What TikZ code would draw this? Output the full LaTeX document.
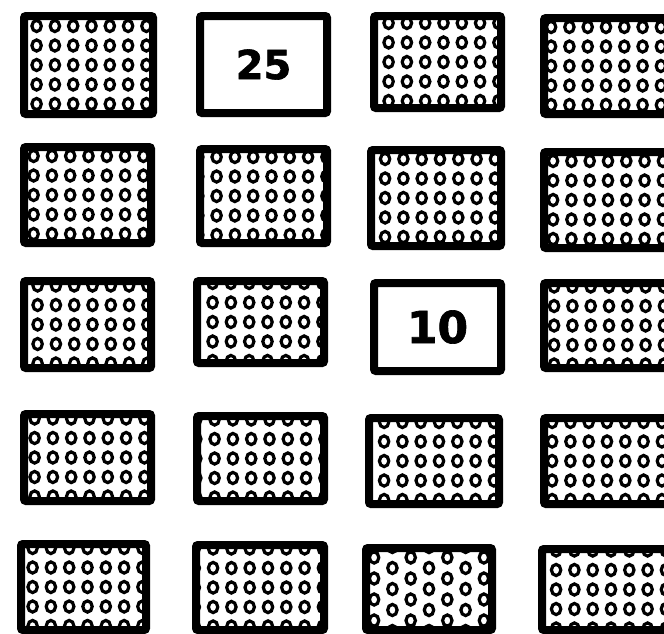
\documentclass[tikz,border=0pt]{standalone}
\usepackage{fontspec}
\setmainfont{DejaVu Sans}
\newfontfamily\heavy[FakeBold=1.5]{DejaVu Sans Bold}
\tikzset{
  box/.style={draw=black, line width=8pt, rounded corners=2pt, fill=white, inner sep=0pt},
  ring/.style={line width=3.2pt},
  dotbox/.style={box, path picture={
    \foreach \i in {-4,...,4}{\foreach \j in {-3,...,3}{
      \draw[ring, shift={(path picture bounding box.center)}] (\i*18.3+#1, \j*19.5) ellipse (4.7pt and 5.6pt);}}}},
  dotbox/.default=0,
  stagbox/.style={box, path picture={
    \foreach \i in {-4,-2,0,2,4}{\foreach \j in {-3,...,3}{
      \draw[ring, shift={(path picture bounding box.center)}] (\i*18.3, \j*21) ellipse (4.7pt and 5.6pt);}}
    \foreach \i in {-3,-1,1,3}{\foreach \j in {-3,...,3}{
      \draw[ring, shift={(path picture bounding box.center)}] (\i*18.3, \j*21+10.5) ellipse (4.7pt and 5.6pt);}}}},
  numbox/.style={box, font=\heavy\fontsize{40}{40}\selectfont}
}
\begin{document}
\begin{tikzpicture}[x=1pt,y=-1pt]
\useasboundingbox (0,0) rectangle (664,633);
% row 1
\node[dotbox=3, minimum width=129pt, minimum height=98pt] (b11) at (88.5,65) {};
\node[numbox, minimum width=127pt, minimum height=97pt] (b12) at (263.5,64.5) {25};
\node[dotbox=6, minimum width=127pt, minimum height=92pt] (b13) at (437.5,62) {};
\node[dotbox=0, minimum width=124pt, minimum height=96pt] (b14) at (606,66) {};
% row 2
\node[dotbox=1, minimum width=127pt, minimum height=96pt] (b21) at (87.5,195) {};
\node[dotbox=8, minimum width=127pt, minimum height=94pt] (b22) at (263.5,196) {};
\node[dotbox=4, minimum width=130pt, minimum height=96pt] (b23) at (436,198) {};
\node[dotbox=2, minimum width=124pt, minimum height=96pt] (b24) at (606,200) {};
% row 3
\node[dotbox=5, minimum width=127pt, minimum height=87pt] (b31) at (87.5,324.5) {};
\node[dotbox=7, minimum width=127pt, minimum height=82pt] (b32) at (260.5,322) {};
\node[numbox, font=\heavy\fontsize{44}{44}\selectfont, minimum width=127pt, minimum height=88pt] (b33) at (437.5,327) {10};
\node[dotbox=3, minimum width=124pt, minimum height=85pt] (b34) at (606,325.5) {};
% row 4
\node[dotbox=2, minimum width=127pt, minimum height=87pt] (b41) at (87.5,457.5) {};
\node[dotbox=9, minimum width=127pt, minimum height=85pt] (b42) at (260.5,458.5) {};
\node[dotbox=5, minimum width=130pt, minimum height=86pt] (b43) at (434,461) {};
\node[dotbox=1, minimum width=124pt, minimum height=86pt] (b44) at (606,461) {};
% row 5
\node[dotbox=4, minimum width=125pt, minimum height=86pt] (b51) at (83.5,587) {};
\node[dotbox=8, minimum width=128pt, minimum height=85pt] (b52) at (260,587.5) {};
\node[stagbox, minimum width=126pt, minimum height=82pt] (b53) at (429,589) {};
\node[dotbox=6, minimum width=126pt, minimum height=81pt] (b54) at (605,589.5) {};
\end{tikzpicture}
\end{document}
